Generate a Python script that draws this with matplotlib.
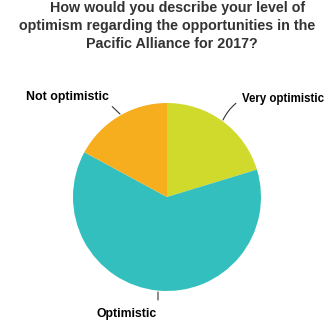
import matplotlib
matplotlib.use("Agg")
import matplotlib.pyplot as plt

# Survey answers (share of respondents, %)
categories = ["Very optimistic", "Optimistic", "Not optimistic"]
shares = [20.3, 62.6, 17.1]
colors = ["#D0DA2C", "#33BFBD", "#F7AE1E"]

title_lines = ["How would you describe your level of",
               "optimism regarding the opportunities in the",
               "Pacific Alliance for 2017?"]

plt.rcParams['font.family'] = ['Liberation Sans', 'DejaVu Sans']

fig = plt.figure(figsize=(3.34, 3.24), dpi=100)
ax = fig.add_axes([0, 0, 1, 1])

ax.pie(shares, colors=colors, startangle=90, counterclock=False,
       center=(167, 127), radius=94, wedgeprops=dict(linewidth=0))
ax.set_xlim(0, 334)
ax.set_ylim(0, 324)
ax.set_aspect('equal')
ax.axis('off')

# title lines are not quite centred in the original
for line, x, y in zip(title_lines, [178, 167, 172], [316, 298, 280]):
    ax.text(x, y, line, ha='center', va='center', fontsize=10.3,
            fontweight='bold', color='#333333')

line_kw = dict(arrowstyle='-', color='#333333', lw=0.8, shrinkB=0)
lab_kw = dict(fontweight='bold', color='black')

ax.annotate(categories[0], xy=(223, 204), xytext=(242, 225),
            ha='left', va='center', fontsize=8.3,
            arrowprops=dict(connectionstyle='arc3,rad=0.15', relpos=(0, 0.5),
                            shrinkA=3, **line_kw), **lab_kw)
ax.annotate(categories[2], xy=(120, 210), xytext=(67, 227),
            ha='center', va='center', fontsize=8.9,
            arrowprops=dict(relpos=(1, 0), shrinkA=1, **line_kw), **lab_kw)

# bottom label with its short leader tick
ax.annotate("", xy=(158, 32), xytext=(158, 24),
            arrowprops=dict(shrinkA=0, **line_kw))
ax.text(127, 10, categories[1], ha='center', va='center', fontsize=8.8,
        **lab_kw)

fig.savefig("out.png", dpi=100)
